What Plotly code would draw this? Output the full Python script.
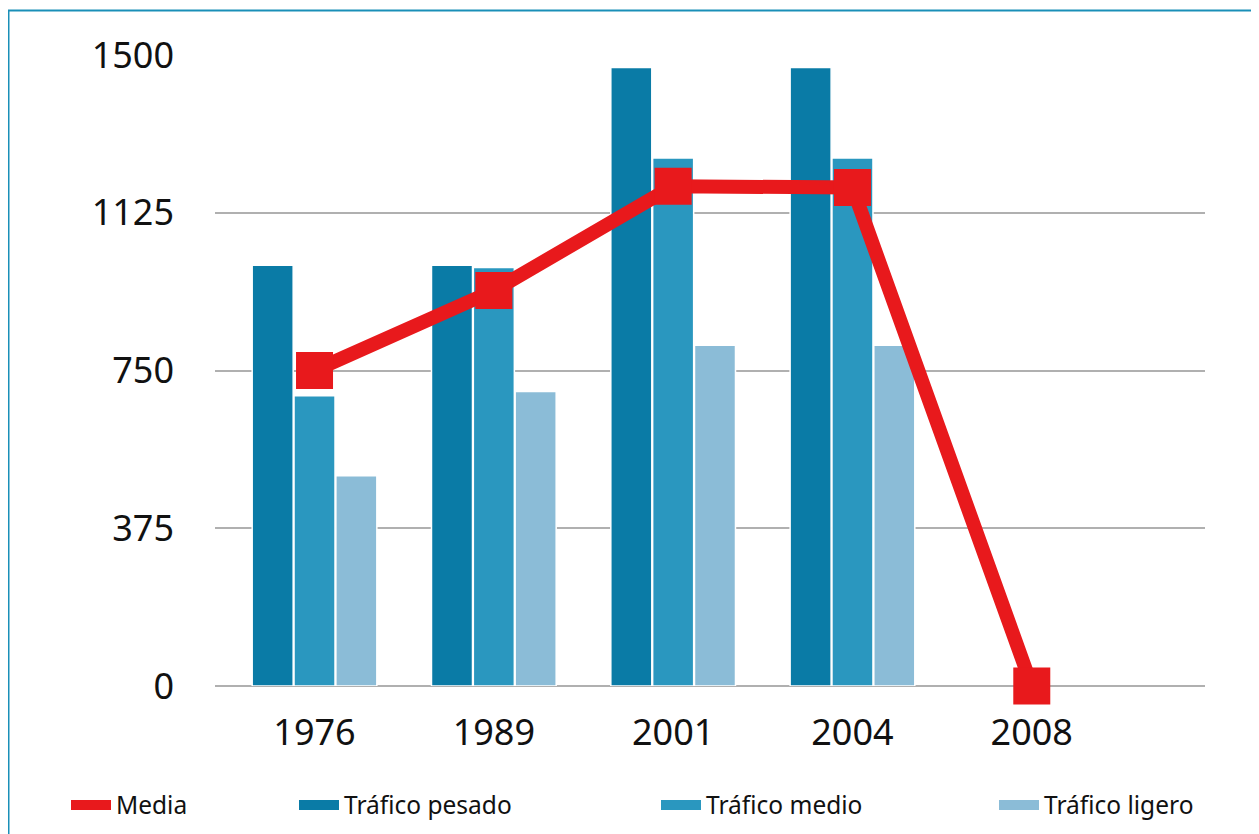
import plotly.graph_objects as go

years = ["1976", "1989", "2001", "2004", "2008"]
pesado = [1000, 1000, 1470, 1470, None]
medio = [690, 995, 1255, 1255, None]
ligero = [500, 700, 810, 810, None]
media = [750, 940, 1188, 1185, 0]

y_ticks = [0, 375, 750, 1125]
y_top_tick = [1500]

series_names = ["Media", "Tráfico pesado", "Tráfico medio", "Tráfico ligero"]
series_colors = ["#e8191c", "#0a7ba6", "#2a97bf", "#8bbcd7"]

FONT = "Noto Sans"
TICKFONT = dict(size=36, family=FONT, color="#111")
LEGFONT = dict(size=24.5, family=FONT, color="#111")

# the page adds an 8px body margin; figure is sized to fit the window
OFF = 8
W, H = 1259 - OFF, 834 - OFF
PL, PR, PT, PB = 215, 1205, 55, 686  # plot area in page pixels

fig = go.Figure()
for vals, name, col in zip([pesado, medio, ligero], series_names[1:], series_colors[1:]):
    fig.add_trace(go.Bar(x=years, y=vals, name=name, showlegend=False,
                         marker=dict(color=col, line=dict(color="white", width=1.5))))
fig.add_trace(go.Scatter(x=years, y=media, name="Media", mode="lines+markers", showlegend=False,
                         line=dict(color=series_colors[0], width=14),
                         marker=dict(symbol="square", size=37, color=series_colors[0]),
                         cliponaxis=False))
# invisible trace on secondary axis hosting the top tick label
fig.add_trace(go.Scatter(x=years, y=[None] * 5, yaxis="y2", showlegend=False, hoverinfo="skip"))

# legend-only entries (rectangular swatches)
legend_ids = ["legend", "legend2", "legend3", "legend4"]
for name, col, lid in zip(series_names, series_colors, legend_ids):
    fig.add_trace(go.Scatter(x=[None], y=[None], mode="lines", name=name, legend=lid,
                             line=dict(color=col, width=16), hoverinfo="skip"))


def px_to_paper(px):
    return (px - PL) / (PR - PL)


def py_to_paper(py):
    return (PB - py) / (PB - PT)


def leg(px):
    return dict(orientation="h", x=px_to_paper(px), xanchor="left", y=py_to_paper(805),
                yanchor="middle", font=LEGFONT, itemwidth=40, bgcolor="rgba(0,0,0,0)")


fig.update_layout(
    width=W, height=H,
    margin=dict(l=PL - OFF, r=(W + OFF) - PR, t=PT - OFF, b=(H + OFF) - PB, autoexpand=False),
    paper_bgcolor="white", plot_bgcolor="white",
    barmode="group", bargap=0.3, bargroupgap=0.02,
    font=dict(family=FONT, color="#1a1a1a"),
    xaxis=dict(type="category", categoryorder="array", categoryarray=years,
               range=[-0.555, 4.966], showgrid=False, zeroline=False, showline=False,
               ticks="", tickfont=TICKFONT, ticklabelstandoff=22),
    yaxis=dict(range=[0, 1500], tickvals=y_ticks, showgrid=True, gridcolor="#b0b0b0",
               gridwidth=1.5, zeroline=True, zerolinecolor="#b0b0b0", zerolinewidth=1.5,
               showline=False, ticks="", tickfont=TICKFONT, ticklabelstandoff=40),
    yaxis2=dict(range=[0, 1500], overlaying="y", side="left", tickvals=y_top_tick,
                showgrid=False, zeroline=False, showline=False, ticks="",
                tickfont=TICKFONT, ticklabelstandoff=40),
    legend=leg(66),
    legend2=leg(294),
    legend3=leg(656),
    legend4=leg(994),
    shapes=[dict(type="rect", xref="paper", yref="paper",
                 x0=px_to_paper(OFF + 0.5), x1=px_to_paper(1300),
                 y0=py_to_paper(900), y1=py_to_paper(10.5),
                 line=dict(color="#1a8fb8", width=2), layer="below")],
    showlegend=True,
)

fig.write_html("out.html")
